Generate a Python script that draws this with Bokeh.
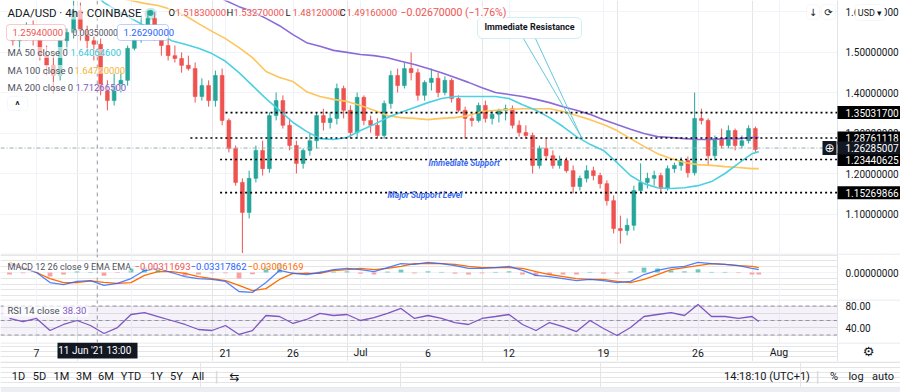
from bokeh.plotting import figure
from bokeh.layouts import column
from bokeh.models import ColumnDataSource, Label, BoxAnnotation, Span, Range1d, FixedTicker, Grid
from bokeh.core.properties import value
from bokeh.embed import file_html
from bokeh.resources import INLINE

# ------------------------------------------------------------------ data
# day numbers: June d -> d, July d -> 30 + d, August d -> 61 + d
candle_day = [5.25, 5.75, 6.25, 6.75, 7.25, 7.75, 8.25, 8.75, 9.25, 9.75, 10.25, 10.75, 11.25, 11.75,
              12.25, 12.75, 13.25, 13.75, 14.25, 14.75, 15.25, 15.75, 16.25, 16.75, 17.25, 17.75, 18.25,
              18.75, 19.25, 19.75, 20.25, 20.75, 21.25, 21.75, 22.25, 22.75, 23.25, 23.75, 24.25, 24.75,
              25.25, 25.75, 26.25, 26.75, 27.25, 27.75, 28.25, 28.75, 29.25, 29.75, 30.25, 30.75, 31.25,
              31.75, 32.25, 32.75, 33.25, 33.75, 34.25, 34.75, 35.25, 35.75, 36.25, 36.75, 37.25, 37.75,
              38.25, 38.75, 39.25, 39.75, 40.25, 40.75, 41.25, 41.75, 42.25, 42.75, 43.25, 43.75, 44.25,
              44.75, 45.25, 45.75, 46.25, 46.75, 47.25, 47.75, 48.25, 48.75, 49.25, 49.75, 50.25, 50.75,
              51.25, 51.75, 52.25, 52.75, 53.25, 53.75, 54.25, 54.75, 55.25, 55.75, 56.25, 56.75, 57.25,
              57.75, 58.25, 58.75, 59.25, 59.75, 60.25]
opens = [1.541, 1.528, 1.548, 1.558, 1.533, 1.491, 1.467, 1.442, 1.528, 1.548,
         1.602, 1.553, 1.528, 1.519, 1.405, 1.380, 1.417, 1.430, 1.509, 1.533,
         1.565, 1.583, 1.553, 1.516, 1.491, 1.484, 1.467, 1.459, 1.390, 1.417,
         1.380, 1.442, 1.331, 1.262, 1.178, 1.104, 1.188, 1.257, 1.212, 1.343,
         1.380, 1.319, 1.269, 1.225, 1.257, 1.281, 1.343, 1.326, 1.336, 1.410,
         1.356, 1.301, 1.388, 1.331, 1.319, 1.294, 1.373, 1.442, 1.417, 1.459,
         1.449, 1.393, 1.425, 1.435, 1.400, 1.430, 1.385, 1.356, 1.336, 1.331,
         1.368, 1.336, 1.346, 1.356, 1.360, 1.319, 1.301, 1.294, 1.220, 1.262,
         1.244, 1.220, 1.232, 1.207, 1.168, 1.188, 1.207, 1.195, 1.175, 1.133,
         1.064, 1.059, 1.072, 1.158, 1.178, 1.188, 1.195, 1.163, 1.212, 1.220,
         1.232, 1.202, 1.336, 1.331, 1.244, 1.286, 1.269, 1.306, 1.269, 1.281,
         1.311]
highs = [1.565, 1.553, 1.573, 1.578, 1.553, 1.516, 1.491, 1.541, 1.558, 1.627,
         1.622, 1.565, 1.538, 1.533, 1.430, 1.449, 1.454, 1.516, 1.553, 1.590,
         1.602, 1.598, 1.565, 1.533, 1.516, 1.499, 1.491, 1.474, 1.435, 1.430,
         1.454, 1.459, 1.336, 1.269, 1.188, 1.207, 1.269, 1.281, 1.351, 1.400,
         1.393, 1.336, 1.281, 1.262, 1.299, 1.351, 1.360, 1.351, 1.422, 1.417,
         1.368, 1.400, 1.393, 1.343, 1.336, 1.380, 1.454, 1.459, 1.474, 1.499,
         1.459, 1.430, 1.459, 1.449, 1.440, 1.435, 1.393, 1.365, 1.343, 1.375,
         1.380, 1.356, 1.360, 1.370, 1.368, 1.331, 1.319, 1.301, 1.269, 1.286,
         1.257, 1.244, 1.240, 1.220, 1.195, 1.220, 1.217, 1.202, 1.183, 1.146,
         1.096, 1.089, 1.170, 1.225, 1.202, 1.207, 1.202, 1.220, 1.227, 1.240,
         1.242, 1.400, 1.360, 1.336, 1.294, 1.311, 1.319, 1.311, 1.294, 1.319,
         1.316]
lows = [1.516, 1.504, 1.528, 1.516, 1.479, 1.442, 1.398, 1.430, 1.504, 1.533,
        1.528, 1.509, 1.479, 1.393, 1.356, 1.368, 1.400, 1.417, 1.504, 1.523,
        1.541, 1.528, 1.491, 1.479, 1.474, 1.449, 1.454, 1.375, 1.380, 1.365,
        1.365, 1.319, 1.252, 1.170, 1.002, 1.089, 1.178, 1.195, 1.202, 1.331,
        1.311, 1.257, 1.200, 1.212, 1.244, 1.262, 1.306, 1.311, 1.321, 1.336,
        1.286, 1.286, 1.319, 1.301, 1.286, 1.286, 1.360, 1.400, 1.410, 1.430,
        1.380, 1.380, 1.405, 1.388, 1.393, 1.375, 1.351, 1.286, 1.316, 1.326,
        1.326, 1.321, 1.326, 1.331, 1.311, 1.291, 1.286, 1.200, 1.212, 1.232,
        1.212, 1.212, 1.202, 1.151, 1.158, 1.178, 1.183, 1.163, 1.121, 1.052,
        1.027, 1.047, 1.059, 1.151, 1.163, 1.170, 1.153, 1.158, 1.202, 1.207,
        1.190, 1.195, 1.321, 1.220, 1.232, 1.262, 1.262, 1.257, 1.262, 1.274,
        1.252]
closes = [1.528, 1.548, 1.558, 1.533, 1.491, 1.467, 1.442, 1.528, 1.548, 1.602,
          1.553, 1.528, 1.519, 1.405, 1.380, 1.417, 1.430, 1.509, 1.533, 1.565,
          1.583, 1.553, 1.516, 1.491, 1.484, 1.467, 1.459, 1.390, 1.417, 1.380,
          1.442, 1.331, 1.262, 1.178, 1.104, 1.188, 1.257, 1.212, 1.343, 1.380,
          1.319, 1.269, 1.225, 1.257, 1.281, 1.343, 1.326, 1.336, 1.410, 1.356,
          1.301, 1.388, 1.331, 1.319, 1.294, 1.373, 1.442, 1.417, 1.459, 1.449,
          1.393, 1.425, 1.435, 1.400, 1.430, 1.385, 1.356, 1.336, 1.331, 1.368,
          1.336, 1.346, 1.356, 1.360, 1.319, 1.301, 1.294, 1.220, 1.262, 1.244,
          1.220, 1.232, 1.207, 1.168, 1.188, 1.207, 1.195, 1.175, 1.133, 1.064,
          1.059, 1.072, 1.158, 1.178, 1.188, 1.195, 1.163, 1.212, 1.220, 1.232,
          1.202, 1.336, 1.331, 1.244, 1.286, 1.269, 1.306, 1.269, 1.281, 1.311,
          1.2594]

ma_day = [11, 12, 13, 14, 15, 16, 17, 18, 19, 20, 21, 22, 23, 24, 25, 26, 27, 28, 29, 30, 31, 32, 33,
          34, 35, 36, 37, 38, 39, 40, 41, 42, 43, 44, 45, 46, 47, 48, 49, 50, 51, 52, 53, 54, 55, 56,
          57, 58, 59, 60, 60.5]
ma50 = [1.652, 1.622, 1.602, 1.583, 1.565, 1.546, 1.528, 1.519, 1.509, 1.496, 1.477, 1.449, 1.417,
        1.385, 1.356, 1.326, 1.304, 1.286, 1.284, 1.289, 1.306, 1.321, 1.338, 1.351, 1.363, 1.375,
        1.385, 1.390, 1.390, 1.390, 1.390, 1.385, 1.370, 1.356, 1.338, 1.316, 1.291, 1.272, 1.257,
        1.227, 1.195, 1.175, 1.165, 1.163, 1.165, 1.170, 1.180, 1.200, 1.225, 1.249, 1.254]
ma100 = [1.650, 1.642, 1.634, 1.627, 1.620, 1.615, 1.605, 1.590, 1.570, 1.551, 1.533, 1.511, 1.486,
         1.452, 1.437, 1.427, 1.402, 1.390, 1.383, 1.378, 1.368, 1.356, 1.343, 1.338, 1.336, 1.333,
         1.336, 1.338, 1.343, 1.353, 1.356, 1.358, 1.360, 1.360, 1.360, 1.353, 1.343, 1.333, 1.321,
         1.306, 1.286, 1.267, 1.249, 1.237, 1.227, 1.222, 1.220, 1.217, 1.215, 1.212, 1.212]
ma200 = [1.715, 1.712, 1.709, 1.705, 1.700, 1.695, 1.690, 1.680, 1.665, 1.645, 1.627, 1.612, 1.600,
         1.583, 1.565, 1.543, 1.523, 1.514, 1.504, 1.499, 1.494, 1.491, 1.486, 1.477, 1.469, 1.459,
         1.449, 1.437, 1.425, 1.412, 1.400, 1.395, 1.390, 1.383, 1.375, 1.365, 1.356, 1.346, 1.333,
         1.321, 1.309, 1.299, 1.291, 1.289, 1.286, 1.284, 1.284, 1.286, 1.286, 1.289, 1.289]

ind_day = [5, 6, 7, 8, 9, 10, 11, 12, 13, 14, 15, 16, 17, 18, 19, 20, 21, 22, 23, 24, 25, 26, 27, 28,
           29, 30, 31, 32, 33, 34, 35, 36, 37, 38, 39, 40, 41, 42, 43, 44, 45, 46, 47, 48, 49, 50, 51,
           52, 53, 54, 55, 56, 57, 58, 59, 60, 60.5]
macd = [0.028, 0.014, 0.000, -0.035, -0.042, -0.031, -0.028, -0.045, -0.038, -0.021, 0.007, 0.014,
        0.000, -0.014, -0.021, -0.024, -0.031, -0.066, -0.069, -0.035, 0.007, -0.003, -0.007, 0.000,
        0.010, 0.014, 0.010, 0.003, 0.017, 0.031, 0.028, 0.035, 0.031, 0.024, 0.014, 0.014, 0.017,
        0.021, 0.007, -0.010, -0.014, -0.021, -0.028, -0.024, -0.028, -0.035, -0.031, -0.007, 0.007,
        0.017, 0.021, 0.035, 0.031, 0.028, 0.024, 0.014, 0.010]
signal = [0.035, 0.017, 0.000, -0.021, -0.035, -0.035, -0.029, -0.034, -0.038, -0.035, -0.010, 0.003,
          0.003, -0.003, -0.014, -0.021, -0.028, -0.045, -0.063, -0.056, -0.024, -0.003, -0.003,
          -0.003, 0.007, 0.010, 0.014, 0.010, 0.014, 0.021, 0.031, 0.031, 0.031, 0.028, 0.021, 0.017,
          0.017, 0.017, 0.014, 0.003, -0.007, -0.014, -0.021, -0.024, -0.024, -0.031, -0.035, -0.024,
          -0.007, 0.010, 0.017, 0.024, 0.031, 0.028, 0.024, 0.021, 0.017]
hist = [-0.007, -0.003, 0.002, -0.014, -0.007, 0.004, 0.002, -0.011, -0.002, 0.014, 0.017, 0.011,
        -0.003, -0.011, -0.007, -0.003, -0.003, -0.021, -0.006, 0.021, 0.031, 0.002, -0.004, 0.003,
        0.003, 0.004, -0.004, -0.007, 0.003, 0.010, -0.003, 0.004, 0.002, -0.004, -0.007, -0.003,
        0.002, 0.004, -0.007, -0.013, -0.007, -0.007, -0.007, 0.002, -0.004, -0.004, 0.004, 0.017,
        0.014, 0.007, 0.004, 0.011, 0.002, 0.002, -0.002, -0.007, -0.007]
rsi = [52.8, 48.6, 52.8, 36.2, 44.5, 50.0, 43.1, 32.1, 40.3, 58.3, 61.0, 55.5, 50.0, 44.5, 37.6, 36.2,
       43.1, 30.7, 36.2, 56.9, 55.5, 45.9, 51.4, 59.7, 56.9, 58.3, 50.0, 54.1, 59.7, 66.6, 52.8, 56.9,
       52.8, 47.2, 44.5, 52.8, 55.5, 58.3, 44.5, 36.2, 47.2, 41.7, 34.8, 50.0, 39.0, 29.3, 40.3, 55.5,
       58.3, 61.0, 56.9, 72.1, 55.5, 55.5, 52.8, 55.5, 48.6]

# drawn horizontal levels (user drawings)
level_price = [1.35031700, 1.28761118, 1.23440625, 1.15269866]
level_text = ["1.35031700", "1.28761118", "1.23440625", "1.15269866"]
level_start = [21.0, 18.4, 20.6, 20.6]

price_ticks = [1.1, 1.2, 1.3, 1.4, 1.5, 1.6]
price_tick_text = ["1.10000000", "1.20000000", "1.30000000", "1.40000000", "1.50000000", "1.60000000"]
tick_day = [7, 14, 21, 26, 31, 36, 42, 49, 56, 62]
tick_text = ["7", "14", "21", "26", "Jul", "6", "12", "19", "26", "Aug"]
cross_day = 11.5
cross_price = 1.26285007

range_buttons = ["1D", "5D", "1M", "3M", "6M", "YTD", "1Y", "5Y", "All"]

# ------------------------------------------------------------------ layout constants
FONT = "Roboto"
W = 900
PXD = 13.5                     # pixels per day
X0 = 7 - 36 / PXD              # day at the left edge
X1 = X0 + W / PXD
AX = X0 + 837 / PXD            # price-scale border (x = 837 px)
PPX = 1 / 405                  # price per pixel in the main pane
DARK = "#131722"
GREY = "#50535e"
UP = "#26a69a"
DOWN = "#ef5350"
C50, C100, C200 = "#4dd0e1", "#ffc45a", "#8c6ad8"

xr = Range1d(X0, X1)


def pane(h, y0, y1, x_range=None):
    p = figure(width=W, height=h, x_range=x_range or xr, y_range=Range1d(y0, y1),
               toolbar_location=None, output_backend="svg",
               x_axis_location=None, y_axis_location=None,
               min_border=0, min_border_left=0, min_border_right=0,
               min_border_top=0, min_border_bottom=0)
    p.outline_line_color = None
    p.background_fill_color = "white"
    p.border_fill_color = "white"
    return p


def lab(p, x, y, text, color=DARK, size=10, style="normal", align="left", baseline="middle",
        font=FONT, xu="screen", yu="screen", bg=None, bga=1.0, alpha=1.0):
    kw = dict(x=x, y=y, x_units=xu, y_units=yu, text=text, text_color=color,
              text_font_size=f"{size}px", text_font=font, text_font_style=style,
              text_align=align, text_baseline=baseline, text_alpha=alpha)
    if bg is not None:
        kw.update(background_fill_color=bg, background_fill_alpha=bga)
    lb = Label(**kw)
    p.add_layout(lb)
    return lb


def sbox(p, l, r, t, b, fill="white", line=None, radius=0, yu="screen", alpha=1.0):
    p.add_layout(BoxAnnotation(left=l, right=r, top=t, bottom=b, left_units="screen",
                               right_units="screen", top_units=yu, bottom_units=yu,
                               fill_color=fill, fill_alpha=alpha, line_color=line,
                               line_width=1, border_radius=radius))


def vgrid(p):
    p.add_layout(Grid(dimension=0, ticker=FixedTicker(ticks=tick_day),
                      grid_line_color="#f0f3fa", grid_line_width=1))


def axis_cover(p, top_sep=None):
    p.add_layout(BoxAnnotation(left=AX, fill_color="white", fill_alpha=1.0, line_color=None))
    p.add_layout(Span(location=AX, dimension="height", line_color="#e0e3eb", line_width=1))
    if top_sep is not None:
        p.add_layout(Span(location=top_sep, dimension="width", line_color="#e0e3eb", line_width=1))


# ------------------------------------------------------------------ main price pane (y 0..253)
H1 = 253
P_TOP = 1.2 + 173 * PPX
P_BOT = 1.2 - 80 * PPX
p1 = pane(H1, P_BOT, P_TOP)
vgrid(p1)
p1.add_layout(Grid(dimension=1, ticker=FixedTicker(ticks=[1.0] + price_ticks),
                   grid_line_color="#f0f3fa", grid_line_width=1))

up = [c >= o for o, c in zip(opens, closes)]
csrc = ColumnDataSource(dict(
    x=candle_day, h=highs, l=lows,
    top=[max(o, c) for o, c in zip(opens, closes)],
    bot=[min(o, c) for o, c in zip(opens, closes)],
    col=[UP if u else DOWN for u in up]))
p1.segment(x0="x", y0="h", x1="x", y1="l", line_color="col", line_width=1, source=csrc)
p1.vbar(x="x", width=0.28, top="top", bottom="bot", fill_color="col", line_color="col",
        line_width=0.6, source=csrc)

p1.line(ma_day, ma200, line_color=C200, line_width=1.6)
p1.line(ma_day, ma100, line_color=C100, line_width=1.6)
p1.line(ma_day, ma50, line_color=C50, line_width=1.6)

# drawn dotted support / resistance levels
p1.segment(x0=level_start, y0=level_price, x1=[AX] * len(level_price), y1=level_price,
           line_color="black", line_width=1.6, line_dash="2 3")
# crosshair / last price line
p1.segment(x0=[X0], y0=[cross_price], x1=[AX], y1=[cross_price], line_color="#8fb3b3",
           line_width=1, line_dash="4 2 1 2")
p1.add_layout(Span(location=cross_day, dimension="height", line_color="#9598a1",
                   line_width=1, line_dash="4 4"))

# callout "Immediate Resistance"
CL, CR, CT, CB = 39.67, 47.37, 1.5852, 1.5333
p1.line([43.07, 47.37, 43.96], [CB, 1.2889, CB], line_color="#63c9d9", line_width=1)
p1.add_layout(BoxAnnotation(left=CL, right=CR, top=CT, bottom=CB, fill_color="white",
                            fill_alpha=1.0, line_color="#63c9d9", line_width=1, border_radius=5))
lab(p1, 43.52, 1.5605, "Immediate Resistance", size=9, style="bold", align="center",
    xu="data", yu="data")
lab(p1, 36.04, 1.2247, "Immediate Support", color="#3a6cf4", size=8.5, style="bold italic",
    xu="data", yu="data")
lab(p1, 33.0, 1.1480, "Major Support Level", color="#3a6cf4", size=8.5, style="bold italic",
    xu="data", yu="data")

# legend (top-left)   screen y = 253 - page y
lab(p1, 7, 241, "ADA/USD · 4h · COINBASE", size=11.5, bg="white", bga=0.6)
lab(p1, 150, 241, "●", color=UP, size=16, align="center", alpha=0.25, font="DejaVu Sans")
lab(p1, 150, 241, "●", color=UP, size=8, align="center", font="DejaVu Sans")
ohlc = [("O", "1.51830000", 168), ("H", "1.53270000", 226), ("L", "1.48120000", 285),
        ("C", "1.49160000", 339)]
for k, v, xs in ohlc:
    lab(p1, xs, 241, k, size=9.5, color=DARK, bg="white", bga=0.6)
    lab(p1, xs + 7, 241, v, size=9.5, color=DOWN, bg="white", bga=0.6)
lab(p1, 400, 241, "−0.02670000 (−1.76%)", size=10.5, color=DOWN, bg="white", bga=0.6)

sbox(p1, 6, 65, 229, 213, fill="white", line=DOWN, radius=3)
lab(p1, 12, 221, "1.25940000", color=DOWN, size=9.5)
lab(p1, 72, 221, "0.00350000", color=GREY, size=8.5, bg="white", bga=0.6)
sbox(p1, 117, 168, 229, 213, fill="white", line="#2962ff", radius=3)
lab(p1, 123, 221, "1.26290000", color="#2962ff", size=9.5)
for name, val, col, vx, ys in [("MA 50 close 0", "1.64064600", "#38c6d9", 70, 201),
                               ("MA 100 close 0", "1.64720000", "#f5b335", 74, 183),
                               ("MA 200 close 0", "1.71266500", "#7e57c2", 75, 166)]:
    lab(p1, 7, ys, name, color=GREY, size=9.5, bg="white", bga=0.6)
    lab(p1, vx, ys, val, color=col, size=9.5, bg="white", bga=0.6)
sbox(p1, 7, 27, 157, 143, fill="white", line="#e0e3eb", radius=3)
lab(p1, 17, 148, "^", color=DARK, size=10, style="bold", align="center")

# price scale
axis_cover(p1)
for pv, pt in zip(price_ticks, price_tick_text):
    lab(p1, 845, pv, pt, color=DARK, size=10, yu="data")
for pv, pt in zip(level_price, level_text):
    sbox(p1, 837, 900, pv + 6.5 * PPX, pv - 6.5 * PPX, fill="black", yu="data")
    lab(p1, 845, pv, pt, color="white", size=10, yu="data")
sbox(p1, 837, 900, cross_price + 6.5 * PPX, cross_price - 6.5 * PPX, fill=DARK, yu="data")
lab(p1, 845, cross_price, "1.26285007", color="white", size=10, yu="data")
sbox(p1, 822, 836, cross_price + 7 * PPX, cross_price - 7 * PPX, fill=DARK, yu="data")
lab(p1, 829, cross_price, "⊕", color="white", size=12, yu="data", align="center",
    font="DejaVu Sans")
# top right buttons
sbox(p1, 806, 819, 249, 234, fill="white", line="#e0e3eb", radius=3)
lab(p1, 812.5, 241, "↓", size=10, align="center", font="DejaVu Sans")
sbox(p1, 821, 835, 249, 234, fill="white", line="#e0e3eb", radius=3)
lab(p1, 828, 241, "⟳", size=10, align="center", font="DejaVu Sans")
sbox(p1, 855, 884, 249, 233, fill="white", line="#e0e3eb", radius=3)
lab(p1, 869.5, 241, "USD ▾", size=9, align="center")

# ------------------------------------------------------------------ MACD pane (y 253..299)
H2 = 46
M_TOP, M_BOT = 19 / 288, -27 / 288
p2 = pane(H2, M_BOT, M_TOP)
vgrid(p2)
p2.add_layout(Grid(dimension=1, ticker=FixedTicker(ticks=[0.0]), grid_line_color="#f0f3fa"))
hsrc = ColumnDataSource(dict(x=ind_day, h=hist,
                             col=["#6fc7bd" if v >= 0 else "#f7a1a0" for v in hist]))
p2.vbar(x="x", top="h", bottom=0, width=0.35, fill_color="col", line_color=None, source=hsrc)
p2.line(ind_day, signal, line_color="#ff6d00", line_width=1.3)
p2.line(ind_day, macd, line_color="#2962ff", line_width=1.3, line_alpha=0.8)
p2.add_layout(Span(location=cross_day, dimension="height", line_color="#9598a1",
                   line_width=1, line_dash="4 4"))
lab(p2, 7, 33, "MACD 12 26 close 9 EMA EMA", color=GREY, size=9, bg="white", bga=0.6)
lab(p2, 134, 33, "−0.00311693", color=DOWN, size=9.5, bg="white", bga=0.6)
lab(p2, 190, 33, "−0.03317862", color="#2962ff", size=9.5, bg="white", bga=0.6)
lab(p2, 247, 33, "−0.03006169", color="#ff6d00", size=9.5, bg="white", bga=0.6)
axis_cover(p2, top_sep=M_TOP - 0.5 / 288)
lab(p2, 845, 0.0, "0.00000000", color=DARK, size=10, yu="data")

# ------------------------------------------------------------------ RSI pane (y 299..342)
H3 = 43
R_TOP, R_BOT = 50 + 21 / 0.725, 50 - 22 / 0.725
p3 = pane(H3, R_BOT, R_TOP)
vgrid(p3)
p3.add_layout(BoxAnnotation(bottom=30, top=70, right=AX, fill_color="#7e57c2", fill_alpha=0.08,
                            line_color=None))
p3.segment(x0=[X0] * 3, y0=[70, 50, 30], x1=[AX] * 3, y1=[70, 50, 30], line_color="#9598a1",
           line_width=1, line_dash="4 3")
p3.line(ind_day, rsi, line_color="#7e57c2", line_width=1.3)
p3.add_layout(Span(location=cross_day, dimension="height", line_color="#9598a1",
                   line_width=1, line_dash="4 4"))
sbox(p3, 3, 88, 38, 26, fill="white", alpha=0.7)
lab(p3, 7, 32, "RSI 14 close", color=GREY, size=9.5)
lab(p3, 62, 32, "38.30", color="#7e57c2", size=9.5)
axis_cover(p3, top_sep=R_TOP - 0.5 / 0.725)
lab(p3, 845, 37, "80.00", color=DARK, size=10)
lab(p3, 845, 40, "40.00", color=DARK, size=10, yu="data")

# ------------------------------------------------------------------ time strip (y 342..361)
H4 = 19
p4 = pane(H4, 0, H4)
tsrc = ColumnDataSource(dict(x=tick_day, y=[9] * len(tick_day), t=tick_text))
p4.text(x="x", y="y", text="t", text_align="center", text_baseline="middle",
        text_font=value(FONT), text_font_size="10.5px", text_color=DARK, source=tsrc)
axis_cover(p4, top_sep=H4 - 0.5)
sbox(p4, 57, 137, 19, 3, fill=DARK)
lab(p4, cross_day, 11, "11 Jun '21   13:00", color="white", size=10, align="center",
    xu="data", yu="data")
lab(p4, 868, 10, "⚙", color=DARK, size=13, align="center", font="DejaVu Sans")

# ------------------------------------------------------------------ bottom toolbar (y 361..392)
H5 = 31
p5 = pane(H5, 0, H5, x_range=Range1d(0, W))
p5.add_layout(Span(location=H5 - 0.5, dimension="width", line_color="#e0e3eb", line_width=1))
sbox(p5, 0, 900, 5, 0, fill="#eceef3")
btn_x = [18, 39, 61, 83.5, 105.5, 130.5, 156, 176, 197.5]
for b, bx in zip(range_buttons, btn_x):
    lab(p5, bx, 16, b, size=11, align="center")
lab(p5, 216, 16, "|", color="#d1d4dc", size=15, align="center")
lab(p5, 234, 16, "⇆", size=12, align="center", font="DejaVu Sans")
lab(p5, 766.5, 16, "14:18:10 (UTC+1)", size=11, align="center")
lab(p5, 817, 16, "|", color="#d1d4dc", size=15, align="center")
lab(p5, 833.5, 16, "%", size=11, align="center")
lab(p5, 855.5, 16, "log", size=11, align="center")
lab(p5, 882.5, 16, "auto", size=11, align="center")

layout = column(p1, p2, p3, p4, p5, spacing=0)
open("out.html", "w").write(file_html(layout, INLINE))
